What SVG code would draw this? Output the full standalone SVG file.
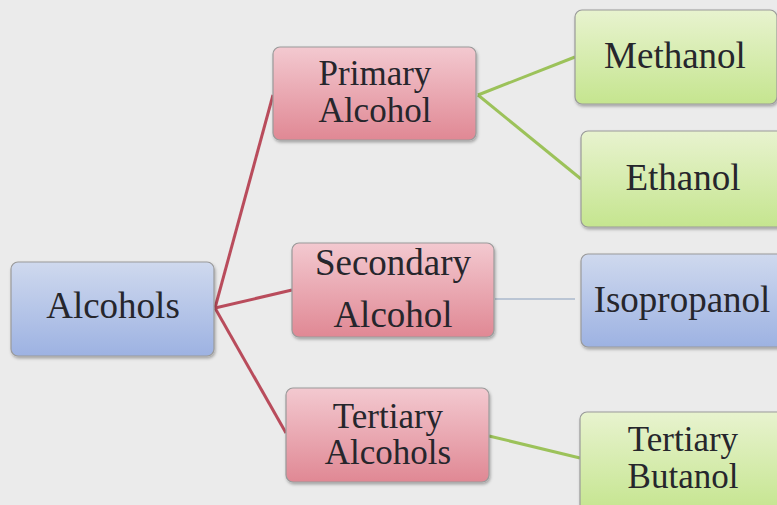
<svg xmlns="http://www.w3.org/2000/svg" width="777" height="505" viewBox="0 0 777 505">
<defs>
<linearGradient id="gBlue" x1="0" y1="0" x2="0" y2="1"><stop offset="0" stop-color="#cfd9ee"/><stop offset="1" stop-color="#9db2e2"/></linearGradient>
<linearGradient id="gPink" x1="0" y1="0" x2="0" y2="1"><stop offset="0" stop-color="#f3c9d0"/><stop offset="1" stop-color="#e08894"/></linearGradient>
<linearGradient id="gGreen" x1="0" y1="0" x2="0" y2="1"><stop offset="0" stop-color="#e8f3cf"/><stop offset="1" stop-color="#c5e58f"/></linearGradient>
<filter id="sh" x="-10%" y="-10%" width="130%" height="130%"><feDropShadow dx="1" dy="2" stdDeviation="1.5" flood-color="#000" flood-opacity="0.3"/></filter>
</defs>
<style>
.box{stroke:#9a9a9a;stroke-width:1.2;filter:url(#sh)}
.blue{fill:url(#gBlue)}
.pink{fill:url(#gPink)}
.green{fill:url(#gGreen)}
.t{font-size:37px;fill:#26262c;text-anchor:middle}
.s{font-size:35px}
.red{stroke:#b94c5c;stroke-width:3;fill:none}
.grn{stroke:#9cc25a;stroke-width:3;fill:none}
.gry{stroke:#aab8cc;stroke-width:1.6;fill:none}
</style>
<rect width="777" height="505" fill="#ebebeb"/>
<g id="connectors">
<line class="red" x1="215" y1="308" x2="273" y2="95"/>
<line class="red" x1="215" y1="308" x2="292" y2="290"/>
<line class="red" x1="215" y1="308" x2="286" y2="433"/>
<line class="grn" x1="478" y1="95" x2="575" y2="57"/>
<line class="grn" x1="478" y1="95" x2="581" y2="179"/>
<line class="gry" x1="495" y1="299" x2="575" y2="299"/>
<line class="grn" x1="489" y1="436" x2="580" y2="458"/>
</g>
<g font-family="Liberation Serif, Times New Roman, serif">
<g id="alcohols"><rect class="box blue" x="11" y="262" width="203" height="94" rx="7"/><text class="t" x="113" y="318">Alcohols</text></g>
<g id="primary"><rect class="box pink" x="273" y="47" width="203" height="93" rx="7"/><text class="t s" x="375" y="85">Primary</text><text class="t s" x="375" y="122">Alcohol</text></g>
<g id="secondary"><rect class="box pink" x="292" y="243" width="202" height="94" rx="7"/><text class="t" x="393" y="275">Secondary</text><text class="t" x="393" y="327">Alcohol</text></g>
<g id="tertiary"><rect class="box pink" x="286" y="388" width="203" height="94" rx="7"/><text class="t s" x="388" y="428">Tertiary</text><text class="t s" x="388" y="464">Alcohols</text></g>
<g id="methanol"><rect class="box green" x="575" y="10" width="202" height="94" rx="7"/><text class="t" x="675" y="68">Methanol</text></g>
<g id="ethanol"><rect class="box green" x="581" y="131" width="210" height="96" rx="7"/><text class="t" x="683" y="190">Ethanol</text></g>
<g id="isopropanol"><rect class="box blue" x="581" y="254" width="210" height="93" rx="7"/><text class="t" x="682" y="312">Isopropanol</text></g>
<g id="tbutanol"><rect class="box green" x="580" y="412" width="210" height="100" rx="7"/><text class="t s" x="683" y="451">Tertiary</text><text class="t s" x="683" y="488">Butanol</text></g>
</g>
</svg>
